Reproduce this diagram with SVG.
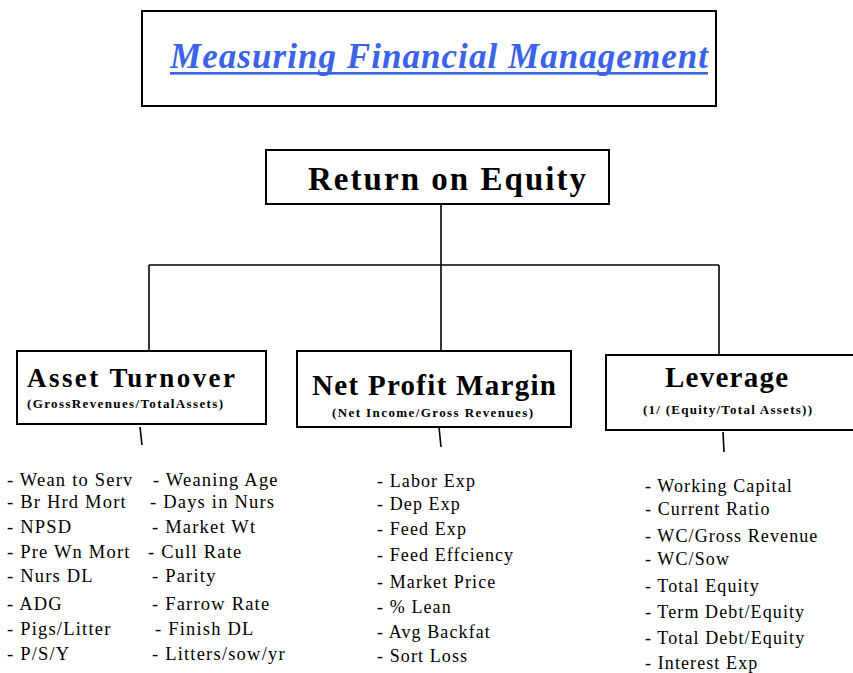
<svg xmlns="http://www.w3.org/2000/svg" width="853" height="673" viewBox="0 0 853 673">
<style>
.box{fill:#fff;stroke:#000;stroke-width:2}
.ln{stroke:#000;stroke-width:1.6;fill:none}
.hd{font-family:"Liberation Serif",serif;font-weight:bold;fill:#000}
.sb{font-family:"Liberation Serif",serif;font-weight:bold;font-size:13px;fill:#000}
.li{font-family:"Liberation Serif",serif;font-size:18px;letter-spacing:1.1px;fill:#000}
.l2{font-family:"Liberation Serif",serif;font-size:18.5px;letter-spacing:1.2px;fill:#000}
</style>
<rect width="853" height="673" fill="#fff"/>
<g id="title">
<rect class="box" x="142" y="11" width="574" height="95"/>
<text x="170" y="68" font-family="Liberation Serif,serif" font-weight="bold" font-style="italic" font-size="35" fill="#3a63e8" textLength="538" lengthAdjust="spacing">Measuring Financial Management</text>
<rect x="170" y="72" width="538" height="2.6" fill="#3a63e8"/>
</g>
<g id="connectors">
<path class="ln" d="M441 204 V351"/>
<path class="ln" d="M149 265 H719"/>
<path class="ln" d="M149 265 V350"/>
<path class="ln" d="M719 265 V355"/>
<path class="ln" d="M140 427 L142 445"/>
<path class="ln" d="M439 427 L441 447"/>
<path class="ln" d="M723 432 L724 452"/>
</g>
<g id="roe">
<rect class="box" x="266" y="150" width="343" height="54"/>
<text class="hd" x="308" y="190" font-size="33" textLength="278" lengthAdjust="spacing">Return on Equity</text>
</g>
<g id="asset-turnover">
<rect class="box" x="17" y="351" width="249" height="73"/>
<text class="hd" x="27" y="387" font-size="27" textLength="208" lengthAdjust="spacing">Asset Turnover</text>
<text class="sb" x="27" y="408" textLength="196" lengthAdjust="spacing">(GrossRevenues/TotalAssets)</text>
</g>
<g id="net-profit-margin">
<rect class="box" x="297" y="351" width="274" height="76"/>
<text class="hd" x="312" y="395" font-size="29" textLength="244" lengthAdjust="spacing">Net Profit Margin</text>
<text class="sb" x="332" y="417" textLength="201" lengthAdjust="spacing">(Net Income/Gross Revenues)</text>
</g>
<g id="leverage">
<rect class="box" x="606" y="355" width="260" height="75"/>
<text class="hd" x="665" y="387" font-size="29" textLength="123" lengthAdjust="spacing">Leverage</text>
<text class="sb" x="643" y="414" textLength="169" lengthAdjust="spacing">(1/ (Equity/Total Assets))</text>
</g>
<g id="asset-list">
<text class="l2" x="7" y="486">- Wean to Serv</text>
<text class="l2" x="7" y="508">- Br Hrd Mort</text>
<text class="l2" x="7" y="533">- NPSD</text>
<text class="l2" x="7" y="558">- Pre Wn Mort</text>
<text class="l2" x="7" y="582">- Nurs DL</text>
<text class="l2" x="7" y="610">- ADG</text>
<text class="l2" x="7" y="635">- Pigs/Litter</text>
<text class="l2" x="7" y="660">- P/S/Y</text>
<text class="l2" x="153" y="486">- Weaning Age</text>
<text class="l2" x="150" y="508">- Days in Nurs</text>
<text class="l2" x="152" y="533">- Market Wt</text>
<text class="l2" x="148" y="558">- Cull Rate</text>
<text class="l2" x="152" y="582">- Parity</text>
<text class="l2" x="152" y="610">- Farrow Rate</text>
<text class="l2" x="155" y="635">- Finish DL</text>
<text class="l2" x="152" y="660">- Litters/sow/yr</text>
</g>
<g id="margin-list">
<text class="li" x="377" y="487">- Labor Exp</text>
<text class="li" x="377" y="510">- Dep Exp</text>
<text class="li" x="377" y="535">- Feed Exp</text>
<text class="li" x="377" y="561">- Feed Effciency</text>
<text class="li" x="377" y="588">- Market Price</text>
<text class="li" x="377" y="613">- % Lean</text>
<text class="li" x="377" y="638">- Avg Backfat</text>
<text class="li" x="377" y="662">- Sort Loss</text>
</g>
<g id="leverage-list">
<text class="li" x="645" y="492">- Working Capital</text>
<text class="li" x="645" y="515">- Current Ratio</text>
<text class="li" x="645" y="542">- WC/Gross Revenue</text>
<text class="li" x="645" y="565">- WC/Sow</text>
<text class="li" x="645" y="592">- Total Equity</text>
<text class="li" x="645" y="618">- Term Debt/Equity</text>
<text class="li" x="645" y="644">- Total Debt/Equity</text>
<text class="li" x="645" y="669">- Interest Exp</text>
</g>
</svg>
